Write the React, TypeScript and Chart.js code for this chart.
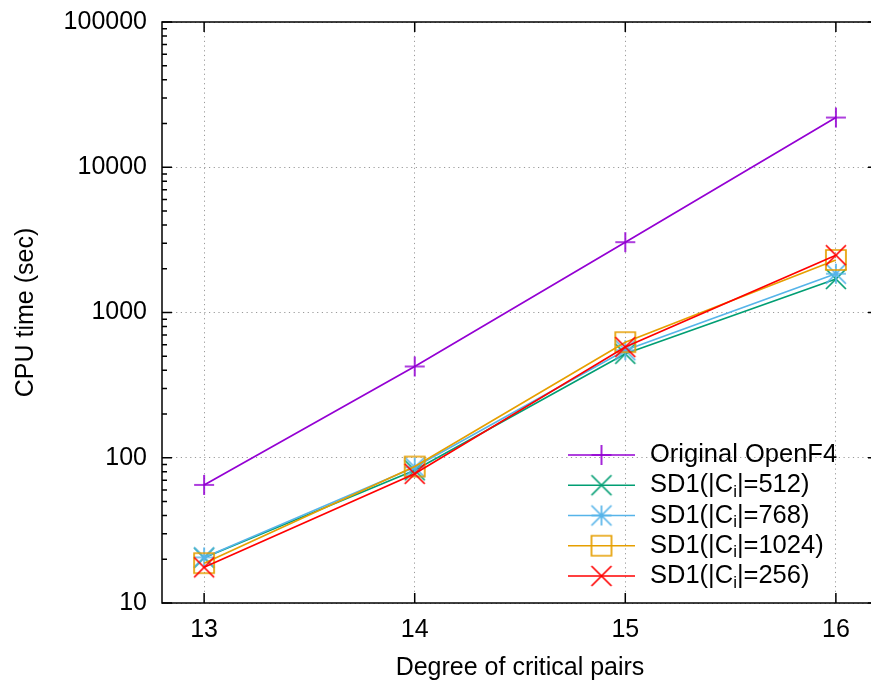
import React, { useEffect, useRef } from 'react';
import { Chart, registerables } from 'chart.js';

Chart.register(...registerables);

// ---------- data ----------
const categories = [13, 14, 15, 16];
const originalOpenF4 = [65, 425, 3050, 22000];
const sd1_512 = [20.5, 82, 520, 1700];
const sd1_768 = [20.6, 86, 550, 1850];
const sd1_1024 = [18.8, 87, 625, 2300];
const sd1_256 = [17.6, 77.5, 578, 2480];
const seriesLabels = [
  'Original OpenF4',
  'SD1(|C_i|=512)',
  'SD1(|C_i|=768)',
  'SD1(|C_i|=1024)',
  'SD1(|C_i|=256)',
];
const seriesColors = ['#9400d3', '#009e73', '#56b4e9', '#e69f00', '#ff0000'];
const seriesMarkers = ['plus', 'cross', 'star', 'square', 'cross'];
const xTicks = [13, 14, 15, 16];
const yTicks = [10, 100, 1000, 10000, 100000];
const xTitle = 'Degree of critical pairs';
const yTitle = 'CPU time (sec)';

const FONT = '"Liberation Sans", Arial, Helvetica, sans-serif';

function makeMarker(kind: string, color: string): HTMLCanvasElement {
  const s = 26;
  const c = document.createElement('canvas');
  c.width = s;
  c.height = s;
  const ctx = c.getContext('2d')!;
  ctx.strokeStyle = color;
  ctx.lineWidth = 1.7;
  const m = s / 2;
  const r = 10;
  ctx.beginPath();
  if (kind === 'plus' || kind === 'star') {
    ctx.moveTo(m - r, m);
    ctx.lineTo(m + r, m);
    ctx.moveTo(m, m - r);
    ctx.lineTo(m, m + r);
  }
  if (kind === 'cross' || kind === 'star') {
    ctx.moveTo(m - r, m - r);
    ctx.lineTo(m + r, m + r);
    ctx.moveTo(m - r, m + r);
    ctx.lineTo(m + r, m - r);
  }
  if (kind === 'square') {
    ctx.rect(m - r, m - r, 2 * r, 2 * r);
  }
  ctx.stroke();
  return c;
}

function drawRichText(ctx: CanvasRenderingContext2D, text: string, x: number, y: number) {
  const parts = text.split(/_(\w)/);
  let cx = x;
  parts.forEach((p, i) => {
    if (i % 2 === 0) {
      ctx.font = `25.5px ${FONT}`;
      ctx.fillText(p, cx, y);
      cx += ctx.measureText(p).width;
    } else {
      ctx.font = `17px ${FONT}`;
      ctx.fillText(p, cx, y + 7);
      cx += ctx.measureText(p).width;
    }
  });
}

export default function App() {
  const ref = useRef<HTMLCanvasElement | null>(null);

  useEffect(() => {
    const canvas = ref.current;
    if (!canvas) return;
    const series = [originalOpenF4, sd1_512, sd1_768, sd1_1024, sd1_256];
    const markers = seriesMarkers.map((k, i) => makeMarker(k, seriesColors[i]));

    const framePlugin = {
      id: 'frameAndKey',
      afterDatasetsDraw(chart: any) {
        const { ctx, chartArea: a, scales } = chart;
        const xs = scales.x;
        const ys = scales.y;
        ctx.save();
        ctx.strokeStyle = '#000';
        ctx.lineWidth = 1.5;
        ctx.beginPath();
        for (const v of yTicks) {
          const p = ys.getPixelForValue(v);
          ctx.moveTo(a.left, p);
          ctx.lineTo(a.left + 10, p);
          ctx.moveTo(a.right, p);
          ctx.lineTo(a.right - 10, p);
        }
        for (let d = 0; d < yTicks.length - 1; d++) {
          for (let k = 2; k <= 9; k++) {
            const p = ys.getPixelForValue(yTicks[d] * k);
            ctx.moveTo(a.left, p);
            ctx.lineTo(a.left + 5, p);
            ctx.moveTo(a.right, p);
            ctx.lineTo(a.right - 5, p);
          }
        }
        for (const v of xTicks) {
          const p = xs.getPixelForValue(v);
          ctx.moveTo(p, a.bottom);
          ctx.lineTo(p, a.bottom - 10);
          ctx.moveTo(p, a.top);
          ctx.lineTo(p, a.top + 10);
        }
        ctx.stroke();
        ctx.strokeRect(a.left, a.top, a.right - a.left, a.bottom - a.top);

        // key
        const n = seriesLabels.length;
        const rowH = 30.25;
        const lastY = a.bottom - 27;
        const lx0 = a.left + 406;
        const lx1 = a.left + 473;
        const tx = a.left + 488;
        ctx.textBaseline = 'middle';
        ctx.textAlign = 'left';
        ctx.fillStyle = '#000';
        for (let i = 0; i < n; i++) {
          const yy = lastY - (n - 1 - i) * rowH;
          ctx.strokeStyle = seriesColors[i];
          ctx.lineWidth = 1.7;
          ctx.beginPath();
          ctx.moveTo(lx0, yy);
          ctx.lineTo(lx1, yy);
          ctx.stroke();
          const mk = markers[i];
          ctx.drawImage(mk, (lx0 + lx1) / 2 - mk.width / 2, yy - mk.height / 2);
          drawRichText(ctx, seriesLabels[i], tx, yy);
        }
        ctx.restore();
      },
    };

    const chart = new Chart(canvas, {
      type: 'line',
      data: {
        datasets: series.map((s, i) => ({
          label: seriesLabels[i],
          data: categories.map((c, j) => ({ x: c, y: s[j] })),
          borderColor: seriesColors[i],
          backgroundColor: seriesColors[i],
          borderWidth: 1.7,
          pointStyle: markers[i] as any,
          pointRadius: 10,
          pointHoverRadius: 10,
          fill: false,
          tension: 0,
          order: series.length - i,
        })),
      },
      options: {
        responsive: false,
        animation: false,
        devicePixelRatio: 1,
        layout: { autoPadding: false, padding: { left: 0, top: 22, right: 2, bottom: 0 } },
        plugins: {
          legend: { display: false },
          tooltip: { enabled: false },
        },
        scales: {
          x: {
            type: 'linear',
            min: 12.8,
            max: 16.2,
            afterBuildTicks: (s: any) => {
              s.ticks = xTicks.map((v) => ({ value: v }));
            },
            afterFit: (s: any) => {
              s.height = 81;
              s.paddingLeft = 0;
              s.paddingRight = 0;
            },
            grid: {
              color: '#9a9a9a',
              lineWidth: 1,
              drawTicks: false,
            },
            border: { display: false, dash: [1.2, 3.5] },
            ticks: {
              padding: 12,
              maxRotation: 0,
              color: '#000',
              font: { family: FONT, size: 25 },
              callback: (v: any) => String(v),
            },
            title: {
              display: true,
              text: xTitle,
              color: '#000',
              font: { family: FONT, size: 25 },
              padding: { top: 0, bottom: 1 },
            },
          },
          y: {
            type: 'logarithmic',
            min: 10,
            max: 100000,
            afterBuildTicks: (s: any) => {
              s.ticks = yTicks.map((v) => ({ value: v }));
            },
            afterFit: (s: any) => {
              s.width = 162;
              s.paddingTop = 0;
              s.paddingBottom = 0;
            },
            grid: {
              color: '#9a9a9a',
              lineWidth: 1,
              drawTicks: false,
            },
            border: { display: false, dash: [1.2, 3.5] },
            ticks: {
              padding: 15,
              color: '#000',
              font: { family: FONT, size: 25 },
              callback: (v: any) => String(v),
            },
            title: {
              display: true,
              text: yTitle,
              color: '#000',
              font: { family: FONT, size: 25 },
              padding: { top: 11, bottom: 0 },
            },
          },
        },
      },
      plugins: [framePlugin],
    } as any);

    return () => chart.destroy();
  }, []);

  return (
    <div
      style={{
        position: 'fixed',
        left: 0,
        top: 0,
        width: 871,
        height: 684,
        overflow: 'hidden',
        background: '#fff',
      }}
    >
      <canvas ref={ref} width={880} height={684} style={{ display: 'block', width: 880, height: 684 }} />
    </div>
  );
}
